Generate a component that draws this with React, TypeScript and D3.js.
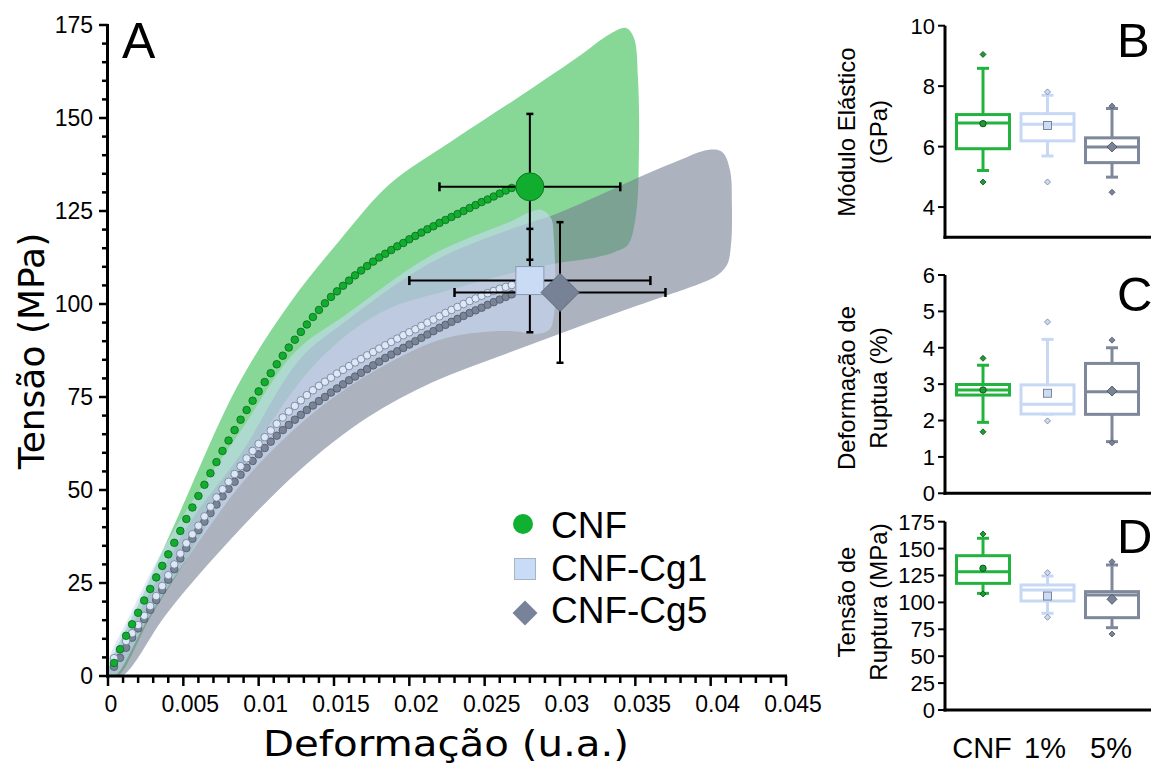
import React from 'react';
import * as d3 from 'd3';

// ---------- Panel A data ----------
const STRAIN = [
  0.0004, 0.0008, 0.0012, 0.0016, 0.0020, 0.0024, 0.0028, 0.0032, 0.0036, 0.0040,
  0.0044, 0.0048, 0.0052, 0.0056, 0.0060, 0.0064, 0.0068, 0.0072, 0.0076, 0.0080,
  0.0084, 0.0088, 0.0092, 0.0096, 0.0100, 0.0104, 0.0108, 0.0112, 0.0116, 0.0120,
  0.0124, 0.0128, 0.0132, 0.0136, 0.0140, 0.0144, 0.0148, 0.0152, 0.0156, 0.0160,
  0.0164, 0.0168, 0.0172, 0.0176, 0.0180, 0.0184, 0.0188, 0.0192, 0.0196, 0.0200,
  0.0204, 0.0208, 0.0212, 0.0216, 0.0220, 0.0224, 0.0228, 0.0232, 0.0236, 0.0240,
  0.0244, 0.0248, 0.0252, 0.0256, 0.0260, 0.0264, 0.0268,
];
const CNF_STRESS = [
  3.5, 7.2, 10.8, 13.9, 17.0, 20.3, 23.4, 26.5, 29.6, 32.7,
  35.8, 39.0, 42.2, 45.3, 48.4, 51.4, 54.5, 57.5, 60.5, 63.3,
  66.1, 68.9, 71.5, 74.0, 76.5, 79.0, 81.4, 83.8, 86.1, 88.3,
  90.4, 92.5, 94.5, 96.5, 98.4, 100.2, 101.9, 103.4, 104.9, 106.3,
  107.7, 109.0, 110.2, 111.4, 112.5, 113.5, 114.5, 115.5, 116.4, 117.4,
  118.3, 119.2, 120.1, 120.9, 121.8, 122.6, 123.4, 124.2, 125.0, 125.8,
  126.6, 127.4, 128.1, 128.9, 129.7, 130.5, 131.2,
];
const CG1_STRESS = [
  4.8, 7.1, 9.4, 11.5, 13.7, 16.2, 18.8, 21.5, 24.2, 27.1,
  30.0, 32.9, 35.7, 38.1, 40.4, 42.9, 45.5, 48.0, 50.2, 52.2,
  54.3, 56.4, 58.5, 60.5, 62.4, 64.2, 66.0, 67.8, 69.5, 71.1,
  72.6, 74.1, 75.5, 76.8, 78.0, 79.1, 80.2, 81.3, 82.3, 83.3,
  84.3, 85.2, 86.2, 87.1, 88.0, 88.9, 89.8, 90.7, 91.6, 92.4,
  93.2, 94.1, 95.0, 95.8, 96.7, 97.6, 98.4, 99.2, 100.0, 100.8,
  101.5, 102.2, 102.9, 103.5, 104.1, 104.6, 105.1,
];
const CG5_STRESS = [
  2.5, 4.9, 7.6, 10.3, 12.8, 15.3, 17.8, 20.4, 23.1, 25.9,
  28.7, 31.6, 34.4, 36.9, 39.2, 41.5, 43.8, 46.1, 48.3, 50.3,
  52.2, 54.1, 56.0, 57.8, 59.6, 61.3, 63.0, 64.6, 66.1, 67.5,
  68.9, 70.2, 71.5, 72.7, 73.9, 75.0, 76.2, 77.3, 78.4, 79.5,
  80.5, 81.5, 82.5, 83.5, 84.5, 85.5, 86.4, 87.3, 88.2, 89.1,
  90.0, 90.9, 91.8, 92.7, 93.6, 94.4, 95.2, 96.0, 96.8, 97.6,
  98.3, 99.0, 99.8, 100.5, 101.2, 101.9, 102.6,
];

// band outlines [strain, MPa], closed polygons
const CNF_BAND: [number, number][] = [
  [0, 0], [0.00246, 23.1], [0.00478, 44.1], [0.00863, 78.2], [0.01208, 100.3],
  [0.0154, 117.2], [0.01872, 132.3], [0.0227, 143.5], [0.02695, 154.8], [0.03119, 166.4],
  [0.03332, 172.6], [0.03438, 174.2], [0.03491, 171.5], [0.03518, 160.2], [0.03524, 141.4],
  [0.03504, 123.9], [0.03451, 115.9], [0.03365, 114.0], [0.03245, 112.6], [0.02914, 110.5],
  [0.0227, 103.8], [0.01805, 97.6], [0.01387, 84.4], [0.00942, 59.4], [0.00518, 31.2],
  [0.00279, 15.6], [0.00066, 0],
];
const CG5_BAND: [number, number][] = [
  [0, 0], [0.00179, 15.1], [0.00378, 29.8], [0.00577, 43.3], [0.00876, 59.4],
  [0.01268, 84.9], [0.01573, 95.2], [0.0215, 111.3], [0.02695, 120.4], [0.02973, 124.2],
  [0.03265, 129.3], [0.03524, 134.1], [0.03796, 138.7], [0.0398, 141.4], [0.04075, 140.9],
  [0.04128, 136.0], [0.04141, 126.6], [0.04135, 115.9], [0.04108, 110.5], [0.04029, 107.3],
  [0.03936, 105.6], [0.03524, 99.7], [0.03066, 93.0], [0.02602, 86.0], [0.02157, 79.0],
  [0.01719, 69.4], [0.01274, 55.4], [0.0083, 37.4], [0.00392, 16.9], [0.00093, 0],
];
const CG1_BAND: [number, number][] = [
  [0, 0], [0, 3.8], [0.00146, 16.4], [0.00345, 32.5], [0.00544, 46.0],
  [0.00876, 65.6], [0.01241, 87.1], [0.01573, 97.0], [0.0215, 113.2], [0.02695, 122.6],
  [0.02801, 124.7], [0.0288, 125.3], [0.0294, 123.1], [0.0296, 117.2], [0.0296, 97.0],
  [0.02927, 93.0], [0.02834, 91.9], [0.02688, 92.7], [0.0225, 90.9], [0.01805, 82.8],
  [0.01387, 71.5], [0.00942, 54.3], [0.00611, 36.6], [0.00279, 16.4], [0.00046, 0],
];

const SERIES = ['CNF', 'CNF-Cg1', 'CNF-Cg5'];
const MEAN_STRAIN = [0.028, 0.028, 0.030];
const STRAIN_ERR = [0.006, 0.008, 0.007];
const MEAN_STRESS = [131.5, 106.3, 103.1];
const STRESS_ERR = [19.6, 13.9, 18.9];

const X_TICKS = [0, 0.005, 0.01, 0.015, 0.02, 0.025, 0.03, 0.035, 0.04, 0.045];
const X_TICK_LABELS = ['0', '0.005', '0.01', '0.015', '0.02', '0.025', '0.03', '0.035', '0.04', '0.045'];
const Y_TICKS = [0, 25, 50, 75, 100, 125, 150, 175];

// ---------- Box panels data ----------
const BOX_CATS = ['CNF', '1%', '5%'];

const MOD_Q1 = [5.93, 6.19, 5.47];
const MOD_MED = [6.78, 6.74, 5.99];
const MOD_Q3 = [7.06, 7.09, 6.29];
const MOD_WLO = [5.21, 5.69, 4.99];
const MOD_WHI = [8.59, 7.70, 7.26];
const MOD_MEAN = [6.76, 6.70, 5.99];
const MOD_OUT = [[9.05, 4.83], [7.81, 4.83], [7.34, 4.49]];
const MOD_TICKS = [4, 6, 8, 10];

const DEF_Q1 = [2.70, 2.18, 2.17];
const DEF_MED = [2.84, 2.45, 2.79];
const DEF_Q3 = [2.99, 2.98, 3.57];
const DEF_WLO = [1.95, 2.18, 1.42];
const DEF_WHI = [3.52, 4.23, 4.0];
const DEF_MEAN = [2.84, 2.75, 2.81];
const DEF_OUT = [[3.71, 1.69], [4.71, 1.99], [4.21, 1.39]];
const DEF_TICKS = [0, 1, 2, 3, 4, 5, 6];

const TS_Q1 = [117.7, 101.3, 85.8];
const TS_MED = [128.5, 111.5, 106.9];
const TS_Q3 = [143.4, 116.2, 110.0];
const TS_WLO = [108.4, 89.9, 76.5];
const TS_WHI = [159.6, 124.5, 134.8];
const TS_MEAN = [131.7, 105.9, 102.9];
const TS_OUT = [[163.6, 107.8], [127.6, 86.2], [137.8, 70.6]];
const TS_TICKS = [0, 25, 50, 75, 100, 125, 150, 175];

// ---------- styles ----------
const FONT = 'Liberation Sans, Arial, sans-serif';
const TITLE_FONT = 'DejaVu Sans, Verdana, sans-serif';
const DOT_FILL = ['#10ad2e', '#dce7f7', '#7a8497'];
const DOT_STROKE = ['#0a6a1c', '#6f7b90', '#4e5767'];
const BOX_STROKE = ['#22b23e', '#c6d8f4', '#7e889a'];
const PT_FILL = ['#1c9a36', '#cddcf2', '#7b8496'];
const PT_STROKE = ['#0b4d18', '#6d7b94', '#4a5262'];

function Marker({ kind, cx, cy, size, fill, stroke, sw }: any) {
  if (kind === 0) return <circle cx={cx} cy={cy} r={size} fill={fill} stroke={stroke} strokeWidth={sw} />;
  if (kind === 1)
    return <rect x={cx - size} y={cy - size} width={size * 2} height={size * 2} fill={fill} stroke={stroke} strokeWidth={sw} />;
  return (
    <path d={`M${cx},${cy - size}L${cx + size},${cy}L${cx},${cy + size}L${cx - size},${cy}Z`} fill={fill} stroke={stroke} strokeWidth={sw} />
  );
}

function BoxPanel(props: any) {
  const { y0, y1, domain, ticks, q1, med, q3, wlo, whi, mean, out, title1, title2, titleY, letter, letterY } = props;
  const xs = d3.scalePoint<string>().domain(BOX_CATS).range([983, 1112]);
  const ys = d3.scaleLinear().domain(domain).range([y0, y1]);
  const bw = 53;
  return (
    <g>
      {BOX_CATS.map((c, i) => {
        const cx = xs(c) as number;
        const col = BOX_STROKE[i];
        return (
          <g key={c}>
            <line x1={cx} x2={cx} y1={ys(q3[i])} y2={ys(whi[i])} stroke={col} strokeWidth={3} />
            <line x1={cx} x2={cx} y1={ys(q1[i])} y2={ys(wlo[i])} stroke={col} strokeWidth={3} />
            <line x1={cx - 6} x2={cx + 6} y1={ys(whi[i])} y2={ys(whi[i])} stroke={col} strokeWidth={3} />
            <line x1={cx - 6} x2={cx + 6} y1={ys(wlo[i])} y2={ys(wlo[i])} stroke={col} strokeWidth={3} />
            <rect x={cx - bw / 2} y={ys(q3[i])} width={bw} height={ys(q1[i]) - ys(q3[i])} fill="white" stroke={col} strokeWidth={3} />
            <line x1={cx - bw / 2} x2={cx + bw / 2} y1={ys(med[i])} y2={ys(med[i])} stroke={col} strokeWidth={3} />
            {out[i].map((v: number, j: number) => (
              <Marker key={j} kind={2} cx={cx} cy={ys(v)} size={3} fill={PT_FILL[i]} stroke={PT_STROKE[i]} sw={0.8} />
            ))}
            <Marker kind={i} cx={cx} cy={ys(mean[i])} size={i === 0 ? 3.2 : i === 1 ? 4 : 5} fill={PT_FILL[i]} stroke={PT_STROKE[i]} sw={0.9} />
          </g>
        );
      })}
      <line x1={945} x2={945} y1={ys(domain[1])} y2={y0 + 1.5} stroke="#000" strokeWidth={3} />
      <line x1={943.5} x2={1151} y1={y0} y2={y0} stroke="#000" strokeWidth={3} />
      {ticks.map((t: number) => (
        <g key={t}>
          <line x1={938} x2={945} y1={ys(t)} y2={ys(t)} stroke="#000" strokeWidth={2} />
          <text x={935} y={ys(t)} dy="0.36em" textAnchor="end" fontFamily={FONT} fontSize={22}>{t}</text>
        </g>
      ))}
      <text transform={`translate(855,${titleY}) rotate(-90)`} textAnchor="middle" fontFamily={FONT} fontSize={24}>{title1}</text>
      <text transform={`translate(887,${titleY}) rotate(-90)`} textAnchor="middle" fontFamily={FONT} fontSize={24}>{title2}</text>
      <text x={1117} y={letterY} fontFamily={FONT} fontSize={49}>{letter}</text>
    </g>
  );
}

export default function App() {
  const W = 1151;
  const H = 763;
  const x = d3.scaleLinear().domain([0, 0.045]).range([108, 786]);
  const y = d3.scaleLinear().domain([0, 175]).range([676, 25]);
  const band = d3
    .line<[number, number]>()
    .x((d) => x(d[0]))
    .y((d) => y(d[1]))
    .curve(d3.curveCatmullRomClosed.alpha(0.5));

  const xMinor = d3.range(0, 46).map((i) => i * 0.001);
  const yMinor = d3.range(0, 36).map((i) => i * 5);
  const curves = [CNF_STRESS, CG1_STRESS, CG5_STRESS];
  const dotOrder = [2, 1, 0];

  return (
    <svg width={W} height={H} style={{ position: 'absolute', left: 0, top: 0, display: 'block', background: '#fff' }}>
      <defs>
        <clipPath id="plotA">
          <rect x={108} y={0} width={720} height={676} />
        </clipPath>
      </defs>
      {/* bands */}
      <g clipPath="url(#plotA)">
        <path d={band(CNF_BAND) || ''} fill="#10b030" fillOpacity={0.5} />
        <path d={band(CG5_BAND) || ''} fill="#757e93" fillOpacity={0.6} />
        <path d={band(CG1_BAND) || ''} fill="#c8daf5" fillOpacity={0.6} />
      </g>
      {/* dotted mean curves */}
      {dotOrder.map((s) => (
        <g key={s}>
          {STRAIN.map((e, i) => (
            <circle key={i} cx={x(e)} cy={y(curves[s][i])} r={3.8} fill={DOT_FILL[s]} stroke={DOT_STROKE[s]} strokeWidth={0.8} />
          ))}
        </g>
      ))}
      {/* error bars */}
      {SERIES.map((s, i) => {
        const cx = x(MEAN_STRAIN[i]);
        const cy = y(MEAN_STRESS[i]);
        const xl = x(MEAN_STRAIN[i] - STRAIN_ERR[i]);
        const xr = x(MEAN_STRAIN[i] + STRAIN_ERR[i]);
        const yt = y(MEAN_STRESS[i] + STRESS_ERR[i]);
        const yb = y(MEAN_STRESS[i] - STRESS_ERR[i]);
        return (
          <g key={s} stroke="#000" strokeWidth={2}>
            <line x1={xl} x2={xr} y1={cy} y2={cy} />
            <line x1={cx} x2={cx} y1={yt} y2={yb} />
            <line x1={xl} x2={xl} y1={cy - 4.5} y2={cy + 4.5} strokeWidth={2.5} />
            <line x1={xr} x2={xr} y1={cy - 4.5} y2={cy + 4.5} strokeWidth={2.5} />
            <line x1={cx - 3.5} x2={cx + 3.5} y1={yt} y2={yt} strokeWidth={2.5} />
            <line x1={cx - 3.5} x2={cx + 3.5} y1={yb} y2={yb} strokeWidth={2.5} />
          </g>
        );
      })}
      {/* mean markers */}
      <Marker kind={1} cx={x(MEAN_STRAIN[1])} cy={y(MEAN_STRESS[1])} size={14} fill="#c9dbf5" stroke="#8d9ab0" sw={1} />
      <Marker kind={2} cx={x(MEAN_STRAIN[2])} cy={y(MEAN_STRESS[2])} size={19} fill="#788296" stroke="#5e6778" sw={1} />
      <Marker kind={0} cx={x(MEAN_STRAIN[0])} cy={y(MEAN_STRESS[0])} size={14} fill="#10ad2e" stroke="#0b7a20" sw={1} />

      {/* axes A */}
      {xMinor.map((t, i) => (
        <line key={i} x1={x(t)} x2={x(t)} y1={676} y2={i % 5 === 0 ? 686 : 683} stroke="#000" strokeWidth={2.5} />
      ))}
      {yMinor.map((t, i) => (
        <line key={i} x1={i % 5 === 0 ? 99 : 102} x2={108} y1={y(t)} y2={y(t)} stroke="#000" strokeWidth={2.5} />
      ))}
      <line x1={107.5} x2={107.5} y1={y(175) - 1} y2={677.5} stroke="#000" strokeWidth={3} />
      <line x1={106} x2={787} y1={676} y2={676} stroke="#000" strokeWidth={3} />
      {X_TICKS.map((t, i) => (
        <text key={t} x={x(t) + (i === 0 ? 3 : 7)} y={712} textAnchor="middle" fontFamily={FONT} fontSize={23}>{X_TICK_LABELS[i]}</text>
      ))}
      {Y_TICKS.map((t) => (
        <text key={t} x={93} y={y(t)} dy="0.36em" textAnchor="end" fontFamily={FONT} fontSize={23}>{t}</text>
      ))}
      <text transform="translate(44,351) rotate(-90)" textAnchor="middle" fontFamily={TITLE_FONT} fontSize={36}>Tensão (MPa)</text>
      <text x={446} y={756} textAnchor="middle" fontFamily={TITLE_FONT} fontSize={35}
        textLength={366} lengthAdjust="spacingAndGlyphs">Deformação (u.a.)</text>
      <text x={122} y={58} fontFamily={FONT} fontSize={50}>A</text>

      {/* legend */}
      <Marker kind={0} cx={523} cy={524} size={10} fill="#10b130" stroke="none" sw={0} />
      <Marker kind={1} cx={525} cy={569} size={10.5} fill="#c9dcf7" stroke="#a8b4c6" sw={1} />
      <Marker kind={2} cx={525} cy={613} size={12.5} fill="#78839a" stroke="none" sw={0} />
      {SERIES.map((s, i) => (
        <text key={s} x={551} y={538 + i * 42.5} fontFamily={FONT} fontSize={37}>{s}</text>
      ))}

      {/* Panel B */}
      <BoxPanel y0={237.3} y1={25.7} domain={[3, 10]} ticks={MOD_TICKS} q1={MOD_Q1} med={MOD_MED} q3={MOD_Q3}
        wlo={MOD_WLO} whi={MOD_WHI} mean={MOD_MEAN} out={MOD_OUT}
        title1="Módulo Elástico" title2="(GPa)" titleY={132} letter="B" letterY={57} />
      {/* Panel C */}
      <BoxPanel y0={493.3} y1={275} domain={[0, 6]} ticks={DEF_TICKS} q1={DEF_Q1} med={DEF_MED} q3={DEF_Q3}
        wlo={DEF_WLO} whi={DEF_WHI} mean={DEF_MEAN} out={DEF_OUT}
        title1="Deformação de" title2="Ruptua (%)" titleY={388} letter="C" letterY={311} />
      {/* Panel D */}
      <BoxPanel y0={710} y1={521.7} domain={[0, 175]} ticks={TS_TICKS} q1={TS_Q1} med={TS_MED} q3={TS_Q3}
        wlo={TS_WLO} whi={TS_WHI} mean={TS_MEAN} out={TS_OUT}
        title1="Tensão de" title2="Ruptura (MPa)" titleY={602} letter="D" letterY={553} />
      {BOX_CATS.map((c, i) => (
        <text key={c} x={[982, 1045, 1111][i]} y={758} textAnchor="middle" fontFamily={FONT} fontSize={29}>{c}</text>
      ))}
    </svg>
  );
}
